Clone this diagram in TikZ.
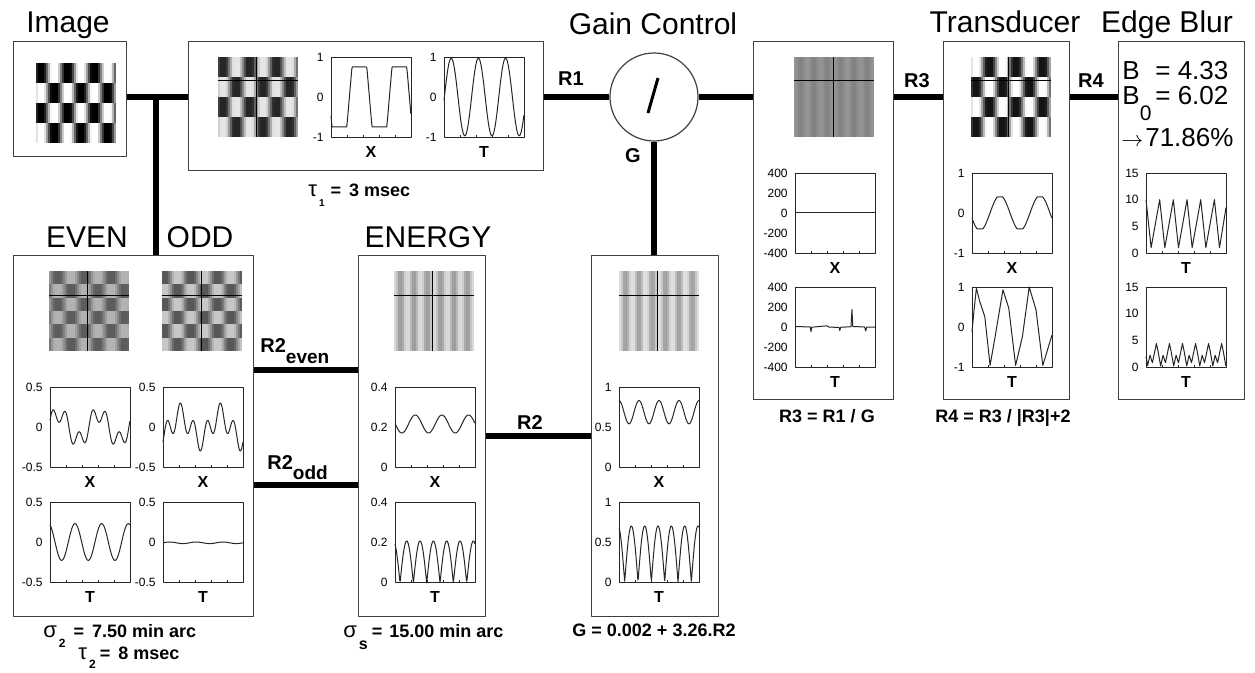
\documentclass[tikz,border=0pt]{standalone}
\usepackage{fontspec}
\setmainfont{Liberation Sans}

% grating patch, 80x80 px: x0, y0, rows, cycles, dark %, light %, phase (deg)
\newcommand{\grating}[7]{%
  \foreach \r in {1,...,#3}{
    \foreach \j in {0,...,39}{
      \pgfmathtruncatemacro{\pct}{#6+(#5-#6)*(0.5+0.5*max(-1,min(1,1.3*cos(#4*9*(\j+0.5)+#7+180*\r))))}
      \fill[black!\pct] ({#1+2*\j},{#2+(\r-1)*80/#3}) rectangle ++(2.4,{80/#3+0.4});
    }}}

% plot axes: name, x0, y0, tick labels, axis letter
\newcommand{\plotframe}[5]{%
  \draw[frame] (#2,#3) rectangle ++(80,80);
  \foreach \t in {16,32,48,64} \draw[frame] (#2+\t,#3+80) -- ++(0,-2);
  \foreach \lab/\f [count=\i] in {#4} \node[tick] (#1-\i) at (#2-7,#3+80*\f) {\lab};
  \node[axis] (#1-ax) at (#2+40,#3+95) {#5};
}

\begin{document}
\begin{tikzpicture}[x=0.5pt,y=-0.5pt,line join=round,
  panel/.style={draw=black!75,line width=0.6pt,inner sep=0pt,anchor=north west},
  divider/.style={circle,draw=black!75,line width=0.6pt,inner sep=0pt,minimum size=44pt},
  link/.style={line width=2.6pt},
  frame/.style={black!85,line width=0.45pt},
  curve/.style={black!85,line width=0.5pt},
  cross/.style={black,line width=0.5pt},
  tick/.style={font=\fontsize{6}{7}\selectfont,anchor=east,inner sep=0pt},
  axis/.style={font=\bfseries\fontsize{8}{9}\selectfont,inner sep=0pt},
  title/.style={font=\fontsize{15}{17}\selectfont,anchor=base,inner sep=0pt},
  rlabel/.style={font=\bfseries\fontsize{10}{12}\selectfont,anchor=base,inner sep=0pt},
  caption/.style={font=\bfseries\fontsize{9}{11}\selectfont,anchor=base,inner sep=0pt},
  bigtext/.style={font=\fontsize{13}{15}\selectfont,anchor=base west,inner sep=0pt}]
\useasboundingbox (0,0) rectangle (1255,673);

% titles
\node[title] (imagetitle) at (68,33) {Image};
\node[title] (gaintitle) at (653,35) {Gain Control};
\node[title] (transtitle) at (1005,33) {Transducer};
\node[title] (blurtitle) at (1167,33) {Edge Blur};
\node[title] (eventitle) at (87,248) {EVEN};
\node[title] (oddtitle) at (200,248) {ODD};
\node[title] (energytitle) at (428,248) {ENERGY};

% patterns
\grating{36}{63}{4}{3}{100}{0}{112.5}
\grating{218}{57}{4}{3}{85}{10}{112.5}
\draw[cross] (256,57) -- (256,137);
\draw[cross] (218,81) -- (298,81);
\grating{49}{271}{6}{3}{64}{30}{60}
\draw[cross] (87,271) -- (87,351);
\draw[cross] (49,296) -- (129,296);
\grating{162}{271}{6}{3}{66}{22}{150}
\draw[cross] (201,271) -- (201,351);
\draw[cross] (162,296) -- (242,296);
\grating{394}{271}{1}{6}{38}{15}{0}
\draw[cross] (432,271) -- (432,351);
\draw[cross] (394,296) -- (474,296);
\grating{619}{271}{1}{6}{36}{13}{0}
\draw[cross] (657,271) -- (657,351);
\draw[cross] (619,296) -- (699,296);
\grating{794}{57}{1}{6}{49}{42}{0}
\draw[cross] (833,57) -- (833,137);
\draw[cross] (794,81) -- (874,81);
\grating{971}{57}{4}{3}{92}{0}{292.5}
\draw[cross] (1008,57) -- (1008,137);
\draw[cross] (971,81) -- (1051,81);

% panels
\node[panel,minimum width=113*0.5pt,minimum height=115*0.5pt] (image) at (13,41) {};
\node[panel,minimum width=355*0.5pt,minimum height=129*0.5pt] (r1box) at (188,41) {};
\node[divider] (gain) at (654,97) {};
\node[panel,minimum width=140*0.5pt,minimum height=358*0.5pt] (r3box) at (753,41) {};
\node[panel,minimum width=126*0.5pt,minimum height=358*0.5pt] (trans) at (943,41) {};
\node[panel,minimum width=126*0.5pt,minimum height=358*0.5pt] (blur) at (1118,41) {};
\node[panel,minimum width=240*0.5pt,minimum height=361*0.5pt] (evenodd) at (13,255) {};
\node[panel,minimum width=127*0.5pt,minimum height=361*0.5pt] (energy) at (358,255) {};
\node[panel,minimum width=127*0.5pt,minimum height=361*0.5pt] (gbox) at (591,255) {};
\draw[line width=1.5pt] (658,78) -- (648,113);

% connectors
\coordinate (mainrow) at (0,97);
\coordinate (tee) at (156,97);
\coordinate (evenrow) at (0,370);
\coordinate (oddrow) at (0,485);
\draw[link] (image.east |- mainrow) -- (r1box.west |- mainrow);
\draw[link] (tee) -- (tee |- evenodd.north);
\draw[link] (r1box.east |- mainrow) -- (gain.west);
\draw[link] (gain.east) -- (r3box.west |- mainrow);
\draw[link] (gain.south) -- (gain.south |- gbox.north);
\draw[link] (r3box.east |- mainrow) -- (trans.west |- mainrow);
\draw[link] (trans.east |- mainrow) -- (blur.west |- mainrow);
\draw[link] (evenodd.east |- evenrow) -- (energy.west |- evenrow);
\draw[link] (evenodd.east |- oddrow) -- (energy.west |- oddrow);
\draw[link] (energy.east) -- (gbox.west);

% connector labels
\node[rlabel] (r1lab) at (571,86) {R1};
\node[rlabel] (glab) at (633,163) {G};
\node[rlabel] (r3lab) at (917,88) {R3};
\node[rlabel] (r4lab) at (1091,88) {R4};
\node[rlabel] (r2lab) at (530,430) {R2};
\node[rlabel,anchor=base west] (r2evenlab) at (260,353) {R2\raisebox{-5.5pt}{\fontsize{9.5}{10}\selectfont even}};
\node[rlabel,anchor=base west] (r2oddlab) at (267,470) {R2\raisebox{-5pt}{\fontsize{9.5}{10}\selectfont odd}};

% plot frames
\plotframe{r1x}{331}{57}{1/0, 0/0.5, -1/1}{X}
\plotframe{r1t}{444}{57}{1/0, 0/0.5, -1/1}{T}
\plotframe{evx}{50}{387}{0.5/0, 0/0.5, -0.5/1}{X}
\plotframe{evt}{50}{502}{0.5/0, 0/0.5, -0.5/1}{T}
\plotframe{odx}{163}{387}{0.5/0, 0/0.5, -0.5/1}{X}
\plotframe{odt}{163}{502}{0.5/0, 0/0.5, -0.5/1}{T}
\plotframe{enx}{395}{387}{0.4/0, 0.2/0.5, 0/1}{X}
\plotframe{ent}{395}{502}{0.4/0, 0.2/0.5, 0/1}{T}
\plotframe{gx}{619}{387}{1/0, 0.5/0.5, 0/1}{X}
\plotframe{gt}{619}{502}{1/0, 0.5/0.5, 0/1}{T}
\plotframe{r3x}{795}{173}{400/0, 200/0.25, 0/0.5, -200/0.75, -400/1}{X}
\plotframe{r3t}{795}{287}{400/0, 200/0.25, 0/0.5, -200/0.75, -400/1}{T}
\plotframe{trx}{972}{173}{1/0, 0/0.5, -1/1}{X}
\plotframe{trt}{972}{287}{1/0, 0/0.5, -1/1}{T}
\plotframe{eba}{1146}{173}{15/0, 10/0.3333, 5/0.6667, 0/1}{T}
\plotframe{ebb}{1146}{287}{15/0, 10/0.3333, 5/0.6667, 0/1}{T}

% curves
\begin{scope}[shift={(331,97)},x=40pt,y=20pt]
  \draw[curve] plot[domain=0:1,samples=150] (\x,{0.75*max(-1,min(1,2.5*sin(720*(\x-0.23))))});
\end{scope}
\begin{scope}[shift={(444,97)},x=40pt,y=20pt]
  \draw[curve] plot[domain=0:1,samples=150] (\x,{0.97*cos(1059*(\x-0.09))});
\end{scope}
\begin{scope}[shift={(50,427)},x=40pt,y=40pt]
  \draw[curve] plot[domain=0:1,samples=200] (\x,{0.17*cos(720*(\x-0.108))+0.11*cos(2160*(\x-0.03))});
\end{scope}
\begin{scope}[shift={(50,542)},x=40pt,y=40pt]
  \draw[curve] plot[domain=0:1,samples=150] (\x,{0.23*cos(1080*(\x-0.3125))});
\end{scope}
\begin{scope}[shift={(163,427)},x=40pt,y=40pt]
  \draw[curve] plot[domain=0:1,samples=200] (\x,{0.15*cos(720*(\x-0.217))+0.15*cos(2160*(\x-0.217))});
\end{scope}
\begin{scope}[shift={(163,542)},x=40pt,y=40pt]
  \draw[curve] plot[domain=0:1,samples=100] (\x,{-0.01+0.01*sin(1080*\x)});
\end{scope}
\begin{scope}[shift={(395,467)},x=40pt,y=100pt]
  \draw[curve] plot[domain=0:1,samples=150] (\x,{0.215+0.045*cos(1080*(\x-0.253))});
\end{scope}
\begin{scope}[shift={(395,583)},x=40pt,y=100pt]
  \draw[curve] plot[domain=0:1,samples=200] (\x,{0.21*abs(sin(1080*(\x-0.063)))});
\end{scope}
\begin{scope}[shift={(619,467)},x=40pt,y=40pt]
  \draw[curve] plot[domain=0:1,samples=150] (\x,{0.685+0.145*cos(1440*\x)});
\end{scope}
\begin{scope}[shift={(619,582)},x=40pt,y=40pt]
  \draw[curve] plot[domain=0:1,samples=200] (\x,{0.7*abs(sin(1080*(\x-0.071)))});
\end{scope}
\draw[curve] (795,213) -- (875,213);
\begin{scope}[shift={(795,327)},x=40pt,y=0.05pt]
  \draw[curve] plot coordinates {(0,5) (0.19,0) (0.2,-45) (0.21,-2) (0.4,12) (0.42,0) (0.55,-5) (0.56,-35) (0.57,-3) (0.7,3) (0.712,175) (0.722,5) (0.87,0) (0.885,-40) (0.895,-2) (1,0)};
\end{scope}
\begin{scope}[shift={(972,213)},x=40pt,y=20pt]
  \draw[curve] plot[domain=0:1,samples=150] (\x,{-0.4*max(-1,min(1,1.1*cos(720*(\x-0.1))))});
\end{scope}
\begin{scope}[shift={(972,327)},x=40pt,y=20pt]
  \draw[curve] plot coordinates {(0,-0.12) (0.026,0.43) (0.055,0.97) (0.096,0.64) (0.16,0.26) (0.226,-0.96) (0.289,-0.24) (0.387,0.93) (0.46,0.47) (0.545,-0.96) (0.63,-0.24) (0.715,1.0) (0.8,0.43) (0.885,-0.96) (1.0,-0.2)};
\end{scope}
\begin{scope}[shift={(1146,253)},x=40pt,y=2.6667pt]
  \draw[curve] (0,10) \foreach \k in {0,...,4}{ -- ({\k*0.171+0.064},1) -- ({(\k+1)*0.171},10)} -- (0.919,1) -- (1,8.5);
\end{scope}
\begin{scope}[shift={(1146,367)},x=40pt,y=2.6667pt]
  \draw[curve] (0,2) -- (0.02,0.3) \foreach \k in {0,...,5}{ -- ({0.02+\k*0.163+0.03},2.2) -- ({0.02+\k*0.163+0.06},0.8) -- ({0.02+\k*0.163+0.11},4.4) -- ({0.02+\k*0.163+0.13},3) -- ({0.02+(\k+1)*0.163},0.2)};
\end{scope}

% edge blur values
\node[bigtext] (bsym) at (1122,80) {B};
\node[bigtext] (bval) at (1155,80) {= 4.33};
\node[bigtext] (bzsym) at (1122,105) {B\raisebox{-8pt}{\fontsize{10.5}{11}\selectfont 0}};
\node[bigtext] (bzval) at (1155,105) {= 6.02};
\node[bigtext] (ratio) at (1121,147) {{\fontsize{11}{11}\selectfont$\rightarrow$}\hspace{1pt}71.86\%};

% captions
\node[caption,anchor=base west] (tau1) at (308,197) {{\mdseries\fontsize{11}{12}\selectfont τ}\hspace{1pt}\raisebox{-5pt}{\fontsize{5}{5}\selectfont 1}\hspace{3pt}=\hspace{4pt}3 msec};
\node[caption,anchor=base west] (sigma2) at (43,638) {{\mdseries\fontsize{11}{12}\selectfont σ}\hspace{1pt}\raisebox{-5pt}{\fontsize{6}{6}\selectfont 2}\hspace{4pt}=\hspace{4pt}7.50 min arc};
\node[caption,anchor=base west] (tau2) at (78,660) {{\mdseries\fontsize{11}{12}\selectfont τ}\hspace{1pt}\raisebox{-4.5pt}{\fontsize{6}{6}\selectfont 2}\hspace{2pt}=\hspace{4pt}8 msec};
\node[caption,anchor=base west] (sigmas) at (343,638) {{\mdseries\fontsize{11}{12}\selectfont σ}\hspace{1pt}\raisebox{-6pt}{\fontsize{8}{8}\selectfont s}\hspace{2pt}=\hspace{3.5pt}15.00 min arc};
\node[caption] (gformula) at (654,637) {G = 0.002 + 3.26.R2};
\node[caption] (r3formula) at (827,423) {R3 = R1 / G};
\node[caption] (r4formula) at (1003,423) {R4 = R3 / |R3|+2};
\end{tikzpicture}
\end{document}
